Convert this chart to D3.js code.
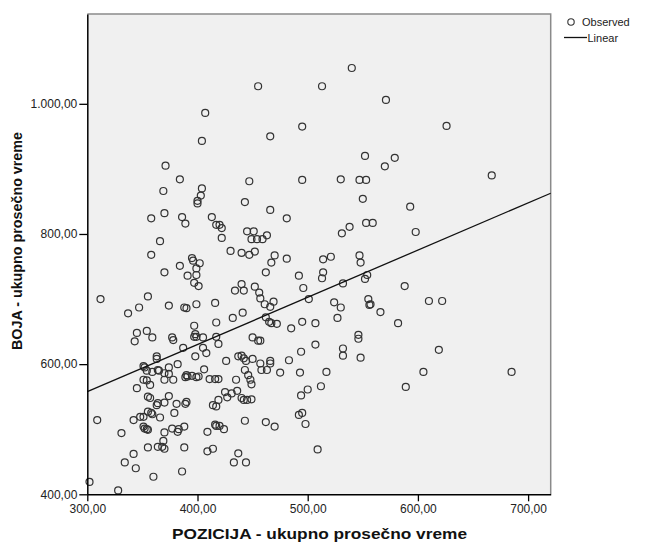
<!DOCTYPE html>
<html>
<head>
<meta charset="utf-8">
<script src="https://cdn.jsdelivr.net/npm/d3@7"></script>
<style>
body { margin: 0; background: #fff; }
svg { display: block; font-family: "Liberation Sans", Arial, sans-serif; }
</style>
</head>
<body>
<svg width="648" height="545"></svg>
<script>
/* ==================== DATA ==================== */

var xTicks = [300, 400, 500, 600, 700];
var yTicks = [400, 600, 800, 1000];
var xDomain = [300, 720.5];
var yDomain = [400, 1138];

var fitX = [300, 720.5];
var fitY = [557.7, 862.6];

// POZICIJA - ukupno prosečno vreme
var pozicija = [
    407, 404, 371, 384, 369, 404, 403, 400, 400, 447,
    443, 358, 370, 386, 389, 413, 417, 420, 422, 422,
    366, 358, 430, 440, 447, 452, 445, 451, 449,
    395, 396, 402, 384, 399, 370, 391, 399, 397, 401,
    312, 355, 347, 337, 374, 388, 390, 399, 416, 434,
    440, 442, 452, 441, 432, 417, 397, 398, 397, 399,
    345, 354, 343, 359, 377, 378, 387, 405, 417, 419,
    405, 408, 398, 426, 363, 363, 374, 382, 351, 352,
    365, 364, 374, 370, 354, 359, 406, 435, 437, 440,
    442, 444, 450, 443, 446, 448, 449, 390, 389, 391,
    395, 399, 401, 411, 416, 419, 378, 370, 345, 351,
    354, 357, 355, 357, 374, 364, 363, 370, 381, 390,
    389, 414, 417, 419, 425, 427, 431, 436, 440, 442,
    445, 449, 355, 358, 359, 351, 348, 342, 366, 379,
    309, 443, 331, 351, 354, 355, 352, 370, 377, 382,
    383, 388, 409, 416, 417, 420, 424, 369, 368, 370,
    355, 364, 388, 409, 414, 342, 334, 344, 360, 386,
    437, 433, 444, 302, 328,
    455, 513, 540,
    571, 495, 466, 552, 579, 570, 495, 530, 547, 553,
    550, 593, 466, 481, 553, 559, 538, 531, 598, 459,
    463, 454, 470, 467, 481, 462, 492, 514, 521, 514,
    513, 547, 548, 554, 552, 532,
    456, 457, 461, 469, 466, 496, 501, 588, 524, 530,
    555, 557, 556, 566, 582, 527, 462, 465, 467, 472,
    495, 485, 507, 450, 455, 457, 546, 546, 507, 494,
    532, 532, 548, 457, 466, 466, 458, 463, 483, 475,
    493, 517, 512, 500, 494, 589, 492, 495, 498, 462,
    470, 509,
    626, 667, 610, 622, 619, 605, 685
];

// BOJA - ukupno prosečno vreme
var boja = [
    986, 943, 905, 884, 866, 870, 859, 851, 847, 881,
    849, 824, 832, 826, 816, 826, 814, 814, 809, 794,
    789, 768, 774, 771, 768, 773, 804, 804, 792,
    763, 759, 755, 751, 747, 741, 736, 737, 725, 720,
    700, 704, 687, 678, 690, 687, 686, 692, 694, 713,
    723, 713, 719, 679, 671, 664, 659, 646, 642, 642,
    648, 651, 635, 641, 641, 637, 625, 641, 642, 631,
    625, 617, 612, 605, 612, 608, 595, 600, 597, 595,
    590, 591, 585, 586, 590, 588, 592, 576, 612, 613,
    609, 605, 608, 591, 583, 576, 569, 583, 580, 581,
    582, 580, 581, 577, 577, 577, 576, 576, 563, 576,
    575, 568, 550, 548, 551, 540, 537, 541, 539, 542,
    539, 537, 535, 545, 557, 549, 555, 559, 548, 545,
    545, 546, 527, 525, 523, 519, 519, 514, 518, 525,
    514, 513, 494, 504, 500, 499, 501, 495, 501, 496,
    500, 504, 496, 507, 505, 505, 500, 482, 473, 470,
    472, 473, 472, 466, 470, 462, 449, 440, 427, 435,
    463, 449, 449, 419, 406,
    1027, 1027, 1055,
    1006, 965, 950, 920, 917, 904, 883, 884, 883, 883,
    854, 842, 837, 824, 817, 817, 811, 801, 803, 792,
    798, 792, 767, 756, 762, 741, 736, 761, 765, 741,
    732, 767, 756, 737, 731, 724,
    710, 701, 692, 696, 688, 717, 700, 720, 695, 687,
    700, 692, 691, 680, 663, 671, 672, 665, 663, 662,
    665, 655, 663, 641, 636, 636, 645, 639, 630, 619,
    624, 613, 610, 601, 605, 601, 591, 591, 606, 587,
    587, 588, 566, 561, 552, 565, 522, 525, 508, 511,
    504, 469,
    966, 890, 697, 697, 622, 588, 588
];

/* ==================== SETUP ==================== */

var svg = d3.select("svg"),
    margin = { top: 14, right: 97.3, bottom: 50.7, left: 87.3 },
    width = +svg.attr("width") - margin.left - margin.right,
    height = +svg.attr("height") - margin.top - margin.bottom,
    g = svg.append("g").attr("transform", "translate(" + margin.left + "," + margin.top + ")");

var locale = d3.formatLocale({ decimal: ",", thousands: ".", grouping: [3], currency: ["", ""] });
var fmt = locale.format(",.2f");

var x = d3.scaleLinear().domain(xDomain).range([0, width]);
var y = d3.scaleLinear().domain(yDomain).range([height, 0]);

// plot background
g.append("rect")
    .attr("width", width)
    .attr("height", height)
    .attr("fill", "#f0f0f0");

// top and right frame (grey)
g.append("path")
    .attr("d", "M0,0H" + width + "V" + height)
    .attr("fill", "none")
    .attr("stroke", "#8a8a8a")
    .attr("stroke-width", 1.5);

/* ==================== POINTS + FIT ==================== */

var points = d3.zip(pozicija, boja);

g.append("g")
    .selectAll("circle")
    .data(points)
    .enter().append("circle")
    .attr("cx", function(d) { return x(d[0]); })
    .attr("cy", function(d) { return y(d[1]); })
    .attr("r", 3.5)
    .attr("fill", "none")
    .attr("stroke", "#333")
    .attr("stroke-width", 1.2);

g.append("path")
    .datum(d3.zip(fitX, fitY))
    .attr("fill", "none")
    .attr("stroke", "#111")
    .attr("stroke-width", 1.3)
    .attr("d", d3.line()
        .x(function(d) { return x(d[0]); })
        .y(function(d) { return y(d[1]); }));

/* ==================== AXES ==================== */

var xAxis = g.append("g")
    .attr("transform", "translate(0," + height + ")")
    .call(d3.axisBottom(x).tickValues(xTicks).tickFormat(fmt).tickSize(7).tickSizeOuter(0).tickPadding(3));

var yAxis = g.append("g")
    .call(d3.axisLeft(y).tickValues(yTicks).tickFormat(fmt).tickSize(8).tickSizeOuter(0).tickPadding(2));

[xAxis, yAxis].forEach(function(a) {
    a.select(".domain").attr("stroke", "#000").attr("stroke-width", 1.5);
    a.selectAll(".tick line").attr("stroke", "#000").attr("stroke-width", 1.3);
    a.selectAll(".tick text")
        .attr("fill", "#222")
        .style("font-size", "12px")
        .style("font-family", "'Liberation Sans', Arial, sans-serif");
});

// axis titles
svg.append("text")
    .attr("x", 319.5)
    .attr("y", 538.5)
    .attr("text-anchor", "middle")
    .attr("textLength", 295)
    .attr("lengthAdjust", "spacingAndGlyphs")
    .style("font-size", "15px")
    .style("font-weight", "bold")
    .attr("fill", "#111")
    .text("POZICIJA - ukupno prosečno vreme");

svg.append("text")
    .attr("transform", "translate(22,241) rotate(-90)")
    .attr("text-anchor", "middle")
    .attr("textLength", 218)
    .attr("lengthAdjust", "spacingAndGlyphs")
    .style("font-size", "14.5px")
    .style("font-weight", "bold")
    .attr("fill", "#111")
    .text("BOJA - ukupno prosečno vreme");

/* ==================== LEGEND ==================== */

var legend = svg.append("g").style("font-size", "11px").attr("fill", "#222");

legend.append("circle")
    .attr("cx", 571)
    .attr("cy", 22)
    .attr("r", 3.2)
    .attr("fill", "none")
    .attr("stroke", "#333")
    .attr("stroke-width", 1.1);

legend.append("text")
    .attr("x", 582)
    .attr("y", 26)
    .text("Observed");

legend.append("line")
    .attr("x1", 564)
    .attr("x2", 587)
    .attr("y1", 37.5)
    .attr("y2", 37.5)
    .attr("stroke", "#111")
    .attr("stroke-width", 1.3);

legend.append("text")
    .attr("x", 587.5)
    .attr("y", 41.5)
    .text("Linear");
</script>
</body>
</html>
